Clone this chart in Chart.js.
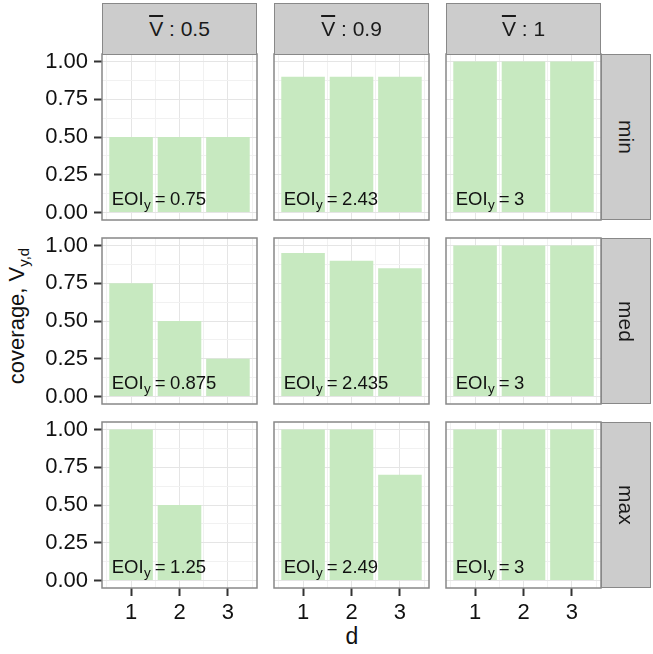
<!DOCTYPE html>
<html>
<head>
<meta charset="utf-8">
<script src="https://cdn.jsdelivr.net/npm/chart.js@4.4.0/dist/chart.umd.min.js"></script>
<style>
  body { margin: 0; background: #fff; }
  #fig { position: relative; width: 653px; height: 654px; overflow: hidden;
         font-family: "Liberation Sans", Arial, sans-serif; color: #111; }
  .strip { position: absolute; box-sizing: border-box; background: #cccccc;
           border: 1.5px solid #888; display: flex; align-items: center;
           justify-content: center; font-size: 21px; color: #1a1a1a; }
  .strip.right span { writing-mode: vertical-rl; }
  .ov { text-decoration: overline; }
  .title { position: absolute; font-size: 22px; white-space: nowrap; }
  .title sub { font-size: 15px; }
</style>
</head>
<body>
<div id="fig">
  <div class="title" style="left:18px; top:316px; transform: translate(-50%,-50%) rotate(-90deg);">coverage, V<sub>y,d</sub></div>
  <div class="title" style="left:352px; top:636px; transform: translate(-50%,-50%); font-size:23px;">d</div>
</div>
<script>
// facets: columns = V bar, rows = min / med / max
const d = [1, 2, 3];
const vBar = ["0.5", "0.9", "1"];
const level = ["min", "med", "max"];

// coverage V_y,d for d = 1..3, one array per V bar column
const coverageMin = [[0.5, 0.5, 0.5], [0.9, 0.9, 0.9], [1, 1, 1]];
const coverageMed = [[0.75, 0.5, 0.25], [0.95, 0.9, 0.85], [1, 1, 1]];
const coverageMax = [[1, 0.5, 0], [1, 1, 0.7], [1, 1, 1]];

const eoiMin = ["0.75", "2.43", "3"];
const eoiMed = ["0.875", "2.435", "3"];
const eoiMax = ["1.25", "2.49", "3"];

const yBreaks = [0, 0.25, 0.5, 0.75, 1];
const yMinor = [0.125, 0.375, 0.625, 0.875];
const xMinor = [0.5, 1.5, 2.5, 3.5];

const coverage = [coverageMin, coverageMed, coverageMax];
const eoi = [eoiMin, eoiMed, eoiMax];

const colLeft = [102, 274, 446];
const rowTop = [54, 238, 422];
const panelW = 155, panelH = 166;
const FONT = "'Liberation Sans', Arial, sans-serif";
const fig = document.getElementById("fig");

const panelFrame = {
  id: "panelFrame",
  afterDatasetsDraw(chart) {
    const { ctx, chartArea: a } = chart;
    ctx.save();
    ctx.strokeStyle = "#888";
    ctx.lineWidth = 1.5;
    ctx.strokeRect(a.left, a.top, a.right - a.left, a.bottom - a.top);
    ctx.restore();
  }
};

// EOI_y = value, bottom left of each panel
const eoiLabel = {
  id: "eoiLabel",
  afterDatasetsDraw(chart, args, opts) {
    const { ctx, scales: { x, y } } = chart;
    let px = x.getPixelForValue(0.6);
    const py = y.getPixelForValue(0.05);
    ctx.save();
    ctx.fillStyle = "#111";
    ctx.textAlign = "left";
    ctx.textBaseline = "alphabetic";
    ctx.font = "18.5px " + FONT;
    ctx.fillText("EOI", px, py);
    px += ctx.measureText("EOI").width + 0.5;
    ctx.font = "13.5px " + FONT;
    ctx.fillText("y", px, py + 4.5);
    px += ctx.measureText("y").width + 4;
    ctx.font = "18.5px " + FONT;
    ctx.fillText("=", px, py);
    px += ctx.measureText("=").width + 4.5;
    ctx.fillText(opts.text, px, py);
    ctx.restore();
  }
};

const isMajor = (list, v) => list.some(b => Math.abs(b - v) < 1e-9);

function makePanel(r, c) {
  const first = c === 0, last = r === 2;
  const padL = first ? 70 : 2, padT = 12, padB = last ? 45 : 12;
  const w = padL + panelW + 2, h = padT + panelH + padB;
  const cv = document.createElement("canvas");
  cv.width = w; cv.height = h;
  cv.style.cssText = `position:absolute;left:${colLeft[c] - padL}px;top:${rowTop[r] - padT}px;width:${w}px;height:${h}px`;
  fig.appendChild(cv);

  const vals = coverage[r][c];
  new Chart(cv, {
    type: "bar",
    data: {
      datasets: [{
        data: d.map((x, i) => ({ x: x, y: vals[i] })),
        backgroundColor: "#c7e9c0",
        borderWidth: 0,
        // the bar ruler also counts the half-step minor ticks, so 2 x 0.9
        barPercentage: 1.8,
        categoryPercentage: 1
      }]
    },
    options: {
      responsive: false,
      animation: false,
      layout: { padding: { left: first ? 0 : 2, right: 2, top: padT, bottom: last ? 0 : padB } },
      plugins: {
        legend: { display: false },
        tooltip: { enabled: false },
        eoiLabel: { text: eoi[r][c] }
      },
      scales: {
        x: {
          type: "linear",
          min: 0.4,
          max: 3.6,
          offset: false,
          afterBuildTicks: s => { s.ticks = d.concat(xMinor).sort((a, b) => a - b).map(v => ({ value: v })); },
          afterFit: s => { s.height = last ? 45 : 0; s.paddingLeft = 0; s.paddingRight = 0; },
          border: { display: false },
          grid: {
            offset: false,
            color: ctx => isMajor(d, ctx.tick.value) ? "#e5e5e5" : "#f1f1f1",
            lineWidth: 1,
            drawTicks: last,
            tickLength: 8,
            tickWidth: 2,
            tickColor: ctx => isMajor(d, ctx.tick.value) ? "#333" : "rgba(0,0,0,0)"
          },
          ticks: {
            display: last,
            autoSkip: false,
            maxRotation: 0,
            padding: 4,
            color: "#111",
            font: { family: FONT, size: 22 },
            callback: v => isMajor(d, v) ? String(v) : ""
          }
        },
        y: {
          type: "linear",
          min: -0.05,
          max: 1.05,
          afterBuildTicks: s => { s.ticks = yBreaks.concat(yMinor).sort((a, b) => a - b).map(v => ({ value: v })); },
          afterFit: s => { s.width = first ? 70 : 0; s.paddingTop = 0; s.paddingBottom = 0; },
          border: { display: false },
          grid: {
            color: ctx => isMajor(yBreaks, ctx.tick.value) ? "#e5e5e5" : "#f1f1f1",
            lineWidth: 1,
            drawTicks: first,
            tickLength: 8,
            tickWidth: 2,
            tickColor: ctx => isMajor(yBreaks, ctx.tick.value) ? "#333" : "rgba(0,0,0,0)"
          },
          ticks: {
            display: first,
            autoSkip: false,
            padding: 6,
            color: "#111",
            font: { family: FONT, size: 22 },
            callback: v => isMajor(yBreaks, v) ? v.toFixed(2) : ""
          }
        }
      }
    },
    plugins: [panelFrame, eoiLabel]
  });
}

for (let r = 0; r < level.length; r++) {
  for (let c = 0; c < vBar.length; c++) makePanel(r, c);
}

// facet strips
vBar.forEach((v, c) => {
  const s = document.createElement("div");
  s.className = "strip";
  s.style.cssText = `left:${colLeft[c]}px;top:3px;width:${panelW}px;height:51.5px;`;
  s.innerHTML = `<span><span class="ov">V</span> : ${v}</span>`;
  fig.appendChild(s);
});
level.forEach((lv, r) => {
  const s = document.createElement("div");
  s.className = "strip right";
  s.style.cssText = `left:${colLeft[2] + panelW}px;top:${rowTop[r]}px;width:50px;height:${panelH}px;`;
  s.innerHTML = `<span>${lv}</span>`;
  fig.appendChild(s);
});
</script>
</body>
</html>
